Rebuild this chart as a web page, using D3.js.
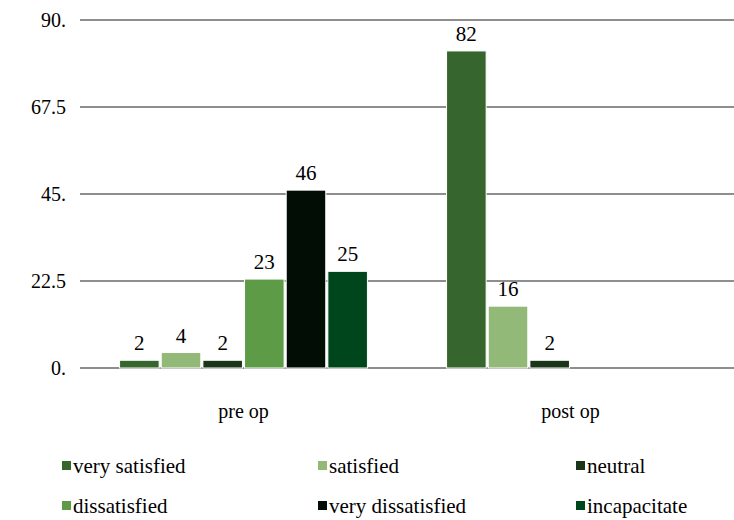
<!DOCTYPE html>
<html>
<head>
<meta charset="utf-8">
<script src="https://cdn.jsdelivr.net/npm/d3@7"></script>
<style>
  @font-face { font-family: "ChartSerif"; src: local("Liberation Serif"), local("LiberationSerif"), local("Tinos"); }
</style>
</head>
<body style="margin:0;background:#fff">
<svg id="chart" width="734" height="520"></svg>
<script>
// Satisfaction responses before and after the operation
const categories = ["pre op", "post op"];
const seriesNames = ["very satisfied", "satisfied", "neutral", "dissatisfied", "very dissatisfied", "incapacitate"];
const seriesColors = ["#36652d", "#93b978", "#1b351b", "#5e9b47", "#020e05", "#00461c"];
const preOp = [2, 4, 2, 23, 46, 25];
const postOp = [82, 16, 2, null, null, null];
const tickValues = [0, 22.5, 45, 67.5, 90];
const tickLabels = ["0.", "22.5", "45.", "67.5", "90."];

const values = [preOp, postOp];
const FONT = '"Liberation Serif", ChartSerif, Tinos, "Times New Roman", monospace';

const svg = d3.select("#chart");
const margin = { left: 80, right: 0, top: 20, bottom: 152 };
const W = 734, H = 520;

const x0 = d3.scaleBand().domain(categories).range([margin.left, W - margin.right]).padding(0);
const x1 = d3.scaleBand().domain(seriesNames).range([0, x0.bandwidth()])
  .paddingInner(0.05).paddingOuter(0.95);
const y = d3.scaleLinear().domain([0, 90]).range([H - margin.bottom, margin.top]);

// horizontal gridlines
svg.append("g")
  .selectAll("line")
  .data(tickValues)
  .join("line")
  .attr("x1", margin.left).attr("x2", W)
  .attr("y1", d => y(d)).attr("y2", d => y(d))
  .attr("stroke", "#8e8e8e").attr("stroke-width", 2);

// y axis labels, written as plain text next to each gridline
svg.append("g")
  .selectAll("text")
  .data(tickValues)
  .join("text")
  .attr("x", margin.left - 14)
  .attr("y", d => y(d))
  .attr("dy", "0.34em")
  .attr("text-anchor", "end")
  .style("font-family", FONT)
  .style("font-size", "20px")
  .text((d, i) => tickLabels[i]);

// bars
categories.forEach((cat, ci) => {
  const g = svg.append("g").attr("transform", `translate(${x0(cat)},0)`);
  const rows = seriesNames.map((s, si) => ({ s, si, v: values[ci][si] })).filter(d => d.v != null);
  g.selectAll("rect")
    .data(rows)
    .join("rect")
    .attr("x", d => x1(d.s))
    .attr("y", d => y(d.v))
    .attr("width", x1.bandwidth())
    .attr("height", d => y(0) - y(d.v))
    .attr("fill", d => seriesColors[d.si])
    .attr("stroke", "#ffffff").attr("stroke-width", 1);
  g.selectAll("text.val")
    .data(rows)
    .join("text")
    .attr("class", "val")
    .attr("x", d => x1(d.s) + x1.bandwidth() / 2)
    .attr("y", d => y(d.v) - 10)
    .attr("text-anchor", "middle")
    .style("font-family", FONT)
    .style("font-size", "21px")
    .text(d => d.v);
});

// category labels
svg.append("g")
  .selectAll("text")
  .data(categories)
  .join("text")
  .attr("x", d => x0(d) + x0.bandwidth() / 2)
  .attr("y", 418)
  .attr("text-anchor", "middle")
  .style("font-family", FONT)
  .style("font-size", "20px")
  .text(d => d);

// legend: two rows of three
const legendX = [62, 318, 576];
const legendY = [466, 506];
const lg = svg.append("g");
seriesNames.forEach((s, i) => {
  const lx = legendX[i % 3], ly = legendY[Math.floor(i / 3)];
  lg.append("rect").attr("x", lx).attr("y", ly - 5).attr("width", 9).attr("height", 9)
    .attr("fill", seriesColors[i]);
  lg.append("text").attr("x", lx + 11).attr("y", ly + 7)
    .style("font-family", FONT)
    .style("font-size", "21px").text(s);
});
</script>
</body>
</html>
